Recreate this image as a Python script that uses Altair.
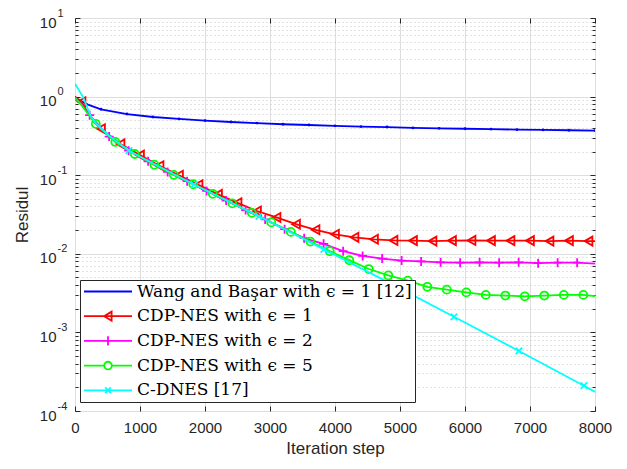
import altair as alt
import pandas as pd

# ---------------- data ----------------
NAMES = [
    "Wang and Başar with ϵ = 1 [12]",
    "CDP-NES with ϵ = 1",
    "CDP-NES with ϵ = 2",
    "CDP-NES with ϵ = 5",
    "C-DNES [17]",
]
COLORS = ["#0000ff", "#ff0000", "#ff00ff", "#00ff00", "#00ffff"]

blue_iter = [0, 100, 200, 400, 800, 1200, 1600, 2000, 2400, 2800, 3200, 3600, 4000,
             4400, 4800, 5200, 5600, 6000, 6400, 6800, 7200, 7600, 8000]
blue_val = [0.97, 0.87, 0.79, 0.69, 0.60, 0.55, 0.52, 0.495, 0.475, 0.46, 0.445, 0.435,
            0.425, 0.415, 0.41, 0.40, 0.395, 0.39, 0.385, 0.38, 0.377, 0.373, 0.37]
blue_marks = [0, 400, 800, 1200, 1600, 2000, 2400, 2800, 3200, 3600, 4000, 4400, 4800,
              5200, 5600, 6000, 6400, 6800, 7200, 7600, 8000]

red_iter = [0, 100, 200, 300, 400, 700, 1000, 1300, 1600, 1900, 2200, 2500, 2800, 3100,
            3400, 3700, 4000, 4300, 4600, 4900, 5200, 5500, 5800, 6100, 6400, 6700, 7000,
            7300, 7600, 7900, 8000]
red_val = [1.0, 0.86, 0.62, 0.47, 0.39, 0.25, 0.18, 0.132, 0.100, 0.0755, 0.057, 0.0445,
           0.035, 0.029, 0.0238, 0.0202, 0.0177, 0.0162, 0.0153, 0.0148, 0.0147, 0.0145,
           0.0147, 0.0148, 0.0147, 0.0147, 0.0147, 0.0145, 0.0147, 0.0145, 0.0145]
red_marks = [100, 400, 700, 1000, 1300, 1600, 1900, 2200, 2500, 2800, 3100, 3400, 3700,
             4000, 4300, 4600, 4900, 5200, 5500, 5800, 6100, 6400, 6700, 7000, 7300, 7600,
             7900]

mag_iter = [0, 100, 225, 525, 825, 1125, 1425, 1725, 2025, 2325, 2625, 2925, 3225, 3525,
            3825, 4125, 4425, 4725, 5025, 5325, 5625, 5925, 6225, 6525, 6825, 7125, 7425,
            7725, 8000]
mag_val = [0.97, 0.80, 0.58, 0.31, 0.205, 0.150, 0.110, 0.084, 0.063, 0.0476, 0.036,
           0.0274, 0.0206, 0.0158, 0.0134, 0.0108, 0.0094, 0.0087, 0.0082, 0.0080, 0.0078,
           0.0077, 0.0078, 0.0077, 0.0078, 0.0076, 0.0077, 0.0077, 0.0075]
mag_marks = [225, 525, 825, 1125, 1425, 1725, 2025, 2325, 2625, 2925, 3225, 3525, 3825,
             4125, 4425, 4725, 5025, 5325, 5625, 5925, 6225, 6525, 6825, 7125, 7425, 7725]

green_iter = [0, 100, 200, 320, 620, 920, 1220, 1520, 1820, 2120, 2420, 2720, 3020, 3320,
              3620, 3920, 4220, 4520, 4820, 5120, 5420, 5720, 6020, 6320, 6620, 6920, 7220,
              7520, 7820, 8000]
green_val = [0.97, 0.78, 0.60, 0.45, 0.265, 0.186, 0.136, 0.101, 0.0767, 0.058, 0.0438,
             0.0332, 0.0251, 0.019, 0.0143, 0.0108, 0.0083, 0.0064, 0.0053, 0.00456,
             0.0038, 0.0035, 0.00323, 0.0030, 0.00294, 0.00288, 0.00294, 0.0030, 0.0030,
             0.0029]
green_marks = [320, 620, 920, 1220, 1520, 1820, 2120, 2420, 2720, 3020, 3320, 3620, 3920,
               4220, 4520, 4820, 5120, 5420, 5720, 6020, 6320, 6620, 6920, 7220, 7520, 7820]

cyan_iter = [0, 120, 250, 330, 520, 830, 1830, 2830, 3830, 4830, 5830, 6830, 7830, 8000]
cyan_val = [1.46, 1.0, 0.55, 0.45, 0.32, 0.205, 0.076, 0.030, 0.0114, 0.0043, 0.00158,
            0.00058, 0.00021, 0.000175]
cyan_marks = [830, 1830, 2830, 3830, 4830, 5830, 6830, 7830]

X_TICKS = [0, 1000, 2000, 3000, 4000, 5000, 6000, 7000, 8000]
Y_MAJOR = [1e-4, 1e-3, 1e-2, 1e-1, 1, 10]
Y_EXPONENTS = ["-4", "-3", "-2", "-1", "0", "1"]
Y_MINOR = [k * 10.0 ** e for e in range(-4, 1) for k in range(2, 10)]

# marker glyphs (marker in plot, and line+marker symbol for the legend)
PLUS = "M-1,0H1M0,-1V1"
XMARK = "M-1,-1L1,1M-1,1L1,-1"
LEG_SHAPES = [
    "M-1,0H1M-0.02,0H0.02",
    "M-1,0H1M0.15,-0.19L-0.16,0L0.15,0.19Z",
    "M-1,0H1M0,-0.19V0.19",
    "M-1,0H-0.16M0.16,0H1M-0.16,0A0.16,0.16 0 1,0 0.16,0A0.16,0.16 0 1,0 -0.16,0",
    "M-1,0H1M-0.12,-0.12L0.12,0.12M-0.12,0.12L0.12,-0.12",
]

series = [
    (NAMES[0], blue_iter, blue_val, blue_marks),
    (NAMES[1], red_iter, red_val, red_marks),
    (NAMES[2], mag_iter, mag_val, mag_marks),
    (NAMES[3], green_iter, green_val, green_marks),
    (NAMES[4], cyan_iter, cyan_val, cyan_marks),
]
rows, mrows = [], []
for name, its, vals, mk in series:
    lut = dict(zip(its, vals))
    for i, (it, v) in enumerate(zip(its, vals)):
        rows.append({"series": name, "order": i, "iter": it, "value": v})
    for it in mk:
        mrows.append({"series": name, "iter": it, "value": lut[it]})
lines = pd.DataFrame(rows)
marks = pd.DataFrame(mrows)

# ---------------- layout ----------------
PW, PH = 520, 393
TXT = "#262626"
SANS = "Liberation Sans"

xscale = alt.Scale(domain=[0, 8000], nice=False, zero=False)
yscale = alt.Scale(type="log", domain=[1e-4, 10], nice=False)


def inward_ticks(orient, values, size):
    # ticks drawn inside the frame: axis shifted inwards by the tick length
    return alt.Axis(orient=orient, values=values, title=None, grid=False, domain=False,
                    labels=False, ticks=True, tickSize=size, offset=-size,
                    tickColor=TXT, tickWidth=1)


X_MAIN = alt.X("iter:Q", scale=xscale, axis=alt.Axis(
    values=X_TICKS, title="Iteration step", grid=True, gridColor="#dedede",
    gridWidth=1, domain=False, ticks=False, labelPadding=9, labelFont=SANS,
    labelFontSize=15, labelColor=TXT, labelFlush=False, titleFont=SANS,
    titleFontSize=17, titleFontWeight="normal", titleColor=TXT, titleX=PW / 2,
    titleY=29, format="d"))
X_TB = alt.X("iter:Q", scale=xscale, axis=inward_ticks("bottom", X_TICKS, 5))
X_TT = alt.X("iter:Q", scale=xscale, axis=inward_ticks("top", X_TICKS, 5))
X_NONE = alt.X("iter:Q", scale=xscale, axis=None)

# "10" part of the decade labels (with major grid and the axis title)
Y_MAJ = alt.Y("value:Q", scale=yscale, axis=alt.Axis(
    orient="left", values=Y_MAJOR, title="Residul", grid=True, gridColor="#dedede",
    domain=False, ticks=False, labelPadding=19, labelFont=SANS, labelFontSize=15,
    labelColor=TXT, labelExpr="'10'", labelOffset=4, labelAlign="right",
    titleFont=SANS, titleFontSize=17, titleFontWeight="normal", titleColor=TXT,
    titleX=-44, titleY=PH / 2))
# exponent part of the decade labels
exp_expr = "[" + ",".join("'%s'" % e for e in Y_EXPONENTS) + "][round(log(datum.value)/LN10)+4]"
Y_EXP = alt.Y("value:Q", scale=yscale, axis=alt.Axis(
    orient="left", values=Y_MAJOR, title=None, grid=False, domain=False, ticks=False,
    labelPadding=18, labelAlign="left", labelFont=SANS, labelFontSize=11,
    labelColor=TXT, labelExpr=exp_expr, labelOffset=-5))
Y_MIN = alt.Y("value:Q", scale=yscale, axis=alt.Axis(
    orient="right", values=Y_MINOR, title=None, grid=True, gridColor="#c4c4c4",
    gridDash=[1, 3], gridWidth=1, domain=False, ticks=False, labels=False))
Y_TLM = alt.Y("value:Q", scale=yscale, axis=inward_ticks("left", Y_MAJOR, 5))
Y_TLm = alt.Y("value:Q", scale=yscale, axis=inward_ticks("left", Y_MINOR, 3))
Y_TRM = alt.Y("value:Q", scale=yscale, axis=inward_ticks("right", Y_MAJOR, 5))
Y_TRm = alt.Y("value:Q", scale=yscale, axis=inward_ticks("right", Y_MINOR, 3))
Y_NONE = alt.Y("value:Q", scale=yscale, axis=None)

# which layer carries which axis (layers: line0, mark0, line1, mark1, ...)
AX = [
    (X_MAIN, Y_MAJ), (X_TT, Y_MIN),
    (X_TB, Y_EXP), (X_NONE, Y_TLM),
    (X_NONE, Y_TLm), (X_NONE, Y_TRM),
    (X_NONE, Y_TRm), (X_NONE, Y_NONE),
    (X_NONE, Y_NONE), (X_NONE, Y_NONE),
]

LW = 1.8
marker_style = [
    dict(shape="circle", size=8, filled=True),
    dict(shape="triangle-left", size=81, filled=False),
    dict(shape=PLUS, size=81, filled=False),
    dict(shape="circle", size=64, filled=False),
    dict(shape=XMARK, size=42, filled=False),
]

layers = []
for k, (name, col) in enumerate(zip(NAMES, COLORS)):
    xl, yl = AX[2 * k]
    ln = alt.Chart(lines).transform_filter(alt.datum.series == name).mark_line(
        color=col, strokeWidth=LW, clip=True).encode(x=xl, y=yl, order="order:Q")
    xm, ym = AX[2 * k + 1]
    ms = marker_style[k]
    pt = alt.Chart(marks).transform_filter(alt.datum.series == name).mark_point(
        color=col, strokeWidth=LW if not ms["filled"] else 0, opacity=1, clip=True,
        **ms).encode(x=xm, y=ym)
    layers += [ln, pt]

leg = alt.Legend(
    title=None, orient="none", legendX=5, legendY=262, direction="vertical",
    fillColor="white", strokeColor=TXT, padding=3, labelFont="DejaVu Serif",
    labelFontSize=17, labelColor="black", labelLimit=500, labelOffset=4,
    symbolSize=2304, symbolStrokeWidth=LW, symbolOpacity=1, clipHeight=17,
    rowPadding=6.7)
legend_layer = alt.Chart(lines).transform_filter(alt.datum.order == 0).mark_point(
    filled=False, opacity=0).encode(
    x=X_NONE, y=Y_NONE,
    color=alt.Color("series:N", sort=NAMES,
                    scale=alt.Scale(domain=NAMES, range=COLORS), legend=leg),
    shape=alt.Shape("series:N", sort=NAMES,
                    scale=alt.Scale(domain=NAMES, range=LEG_SHAPES), legend=leg))
layers.append(legend_layer)

chart = alt.layer(*layers).resolve_axis(x="independent", y="independent").properties(
    width=PW, height=PH,
    autosize=alt.AutoSizeParams(type="none"),
    padding={"left": 67, "top": 10, "right": 20, "bottom": 47},
    background="white",
).configure_view(stroke=TXT, strokeWidth=1)

chart.save("out.html", embed_options={"renderer": "svg", "actions": False})
